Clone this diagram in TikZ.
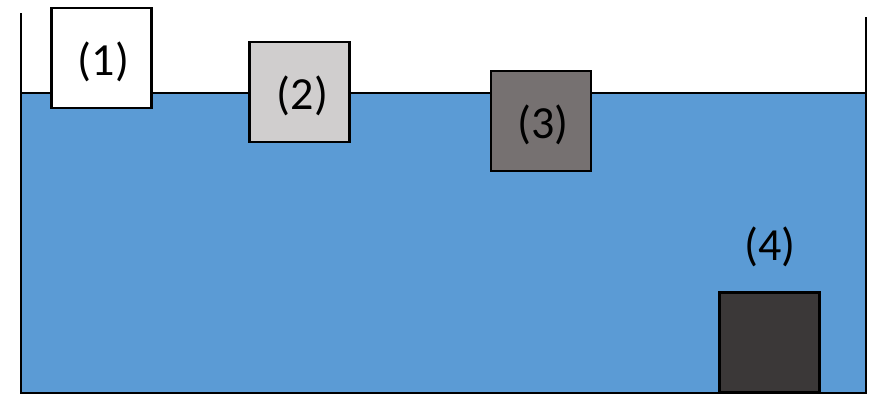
\documentclass[tikz,border=0pt]{standalone}
\usepackage{fontspec}
\setmainfont{Carlito}
\usetikzlibrary{calc}
\definecolor{water}{HTML}{5B9BD5}
\definecolor{lightgrey}{HTML}{D0CECE}
\definecolor{midgrey}{HTML}{767171}
\definecolor{darkgrey}{HTML}{3B3838}
\tikzset{
  block/.style={draw=black, line width=2.5pt, minimum width=100pt, minimum height=100pt, inner sep=0pt},
  lbl/.style={inner sep=0pt, font=\fontsize{46}{52}\selectfont},
  wall/.style={draw=black, line width=2pt}
}
\begin{document}
\begin{tikzpicture}[x=1pt, y=-1pt]
  \useasboundingbox (0,0) rectangle (873,394);
  % water in the tank
  \fill[water] (21,93) rectangle (866,393);
  \draw[wall] (21,93) -- (866,93);
  % tank walls and floor
  \draw[wall] (21,13) -- (21,393) -- (866,393) -- (866,17);
  % blocks
  \node[block, fill=white]      (b1) at (101.5,58)  {};
  \node[block, fill=lightgrey]  (b2) at (299.5,92)  {};
  \node[block, fill=midgrey]    (b3) at (541,121)   {};
  \node[block, fill=darkgrey]   (b4) at (769.5,342.5) {};
  % labels
  \node[lbl] (l1) at ($(b1.center)+(2,4)$) {(1)};
  \node[lbl] (l2) at ($(b2.center)+(3,4)$) {(2)};
  \node[lbl] (l3) at ($(b3.center)+(2,4)$) {(3)};
  \node[lbl] (l4) at (770,247) {(4)};
\end{tikzpicture}
\end{document}
